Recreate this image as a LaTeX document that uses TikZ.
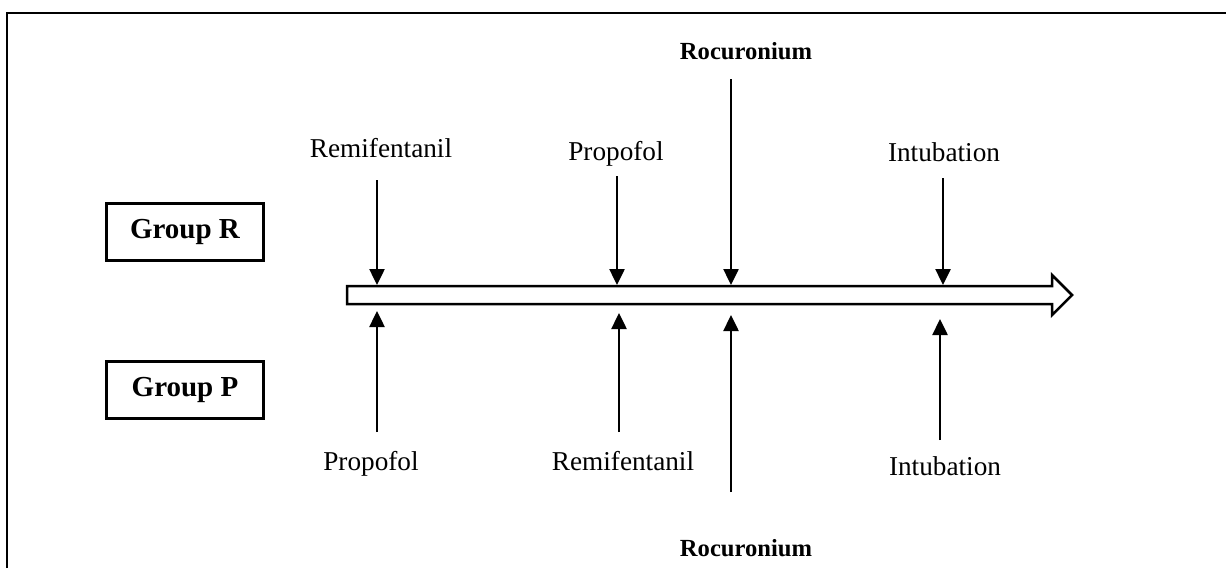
\documentclass[tikz,border=0pt]{standalone}
\usepackage{fontspec}
\setmainfont{Liberation Serif}
\usetikzlibrary{arrows.meta}
\tikzset{
	drug/.style={inner sep=0pt, anchor=base, font=\fontsize{15.5}{18}\selectfont},
	relaxant/.style={drug, font=\fontsize{14}{17}\selectfont\bfseries},
	groupbox/.style={draw, line width=0.6mm, inner sep=0pt, minimum width=31.4mm, minimum height=11.4mm, font=\fontsize{16.5}{20}\selectfont\bfseries},
	tick/.style={line width=0.5mm, -{Triangle[width=3mm, length=3.2mm]}}
}

\begin{document}
\begin{tikzpicture}[x=0.02cm, y=-0.02cm]
	\useasboundingbox (0,0) rectangle (1226,568);
	\draw[line width=0.4mm] (7,568) -- (7,13) -- (1226,13);

	\node[groupbox] (grpR) at (185,232) {Group R};
	\node[groupbox] (grpP) at (185,390) {Group P};

	% time line
	\draw[line width=0.5mm, line join=miter] (347,286) -- (1052,286) -- (1052,275) -- (1072,295) -- (1052,315) -- (1052,304) -- (347,304) -- cycle;

	% group R, above the line
	\node[drug] (remiR) at (381,157) {Remifentanil};
	\node[drug] (propR) at (616,160) {Propofol};
	\node[relaxant] (rocuR) at (746,59) {Rocuronium};
	\node[drug] (intuR) at (944,161) {Intubation};
	\coordinate (sR1) at (377,180);
	\coordinate (sR2) at (617,176);
	\coordinate (sR3) at (731,79);
	\coordinate (sR4) at (943,178);
	\coordinate (tR1) at (377,285);
	\coordinate (tR2) at (617,285);
	\coordinate (tR3) at (731,285);
	\coordinate (tR4) at (943,285);
	\foreach \i in {1,...,4}
		\draw[tick] (sR\i) -- (tR\i);

	% group P, below the line
	\node[drug] (propP) at (371,470) {Propofol};
	\node[drug] (remiP) at (623,470) {Remifentanil};
	\node[relaxant] (rocuP) at (746,556) {Rocuronium};
	\node[drug] (intuP) at (945,475) {Intubation};
	\coordinate (sP1) at (377,432);
	\coordinate (sP2) at (619,432);
	\coordinate (sP3) at (731,492);
	\coordinate (sP4) at (940,440);
	\coordinate (tP1) at (377,311);
	\coordinate (tP2) at (619,313);
	\coordinate (tP3) at (731,315);
	\coordinate (tP4) at (940,319);
	\foreach \i in {1,...,4}
		\draw[tick] (sP\i) -- (tP\i);
\end{tikzpicture}
\end{document}
